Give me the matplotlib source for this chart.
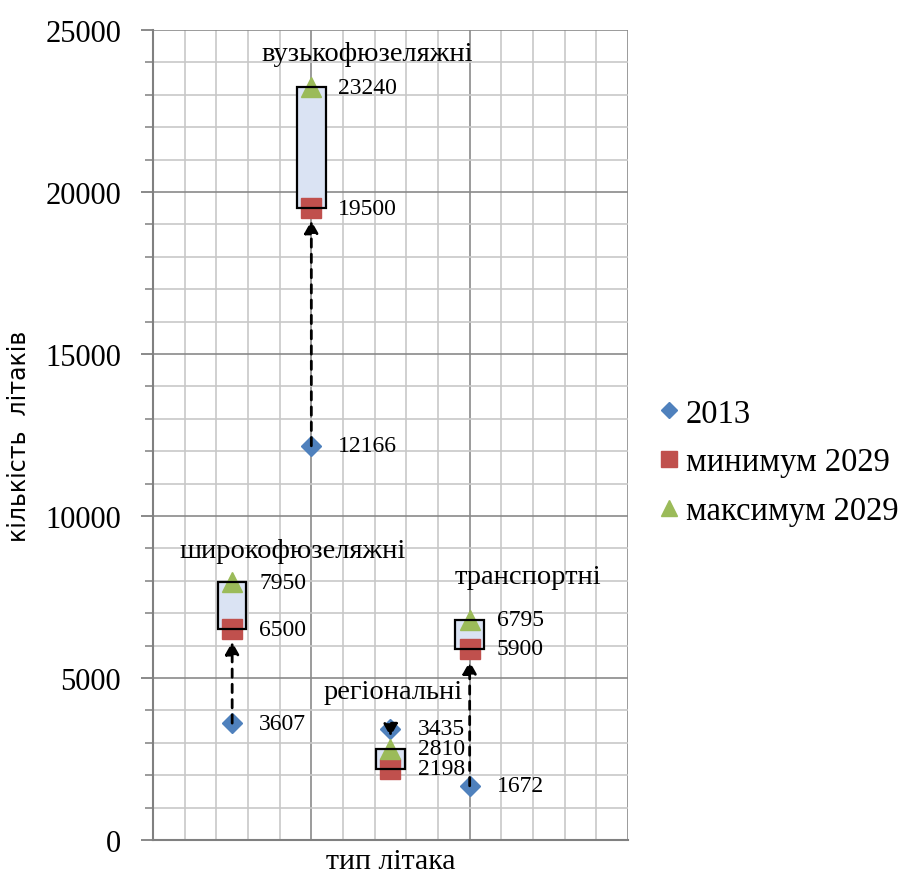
import matplotlib
matplotlib.use("Agg")
import matplotlib.pyplot as plt
from matplotlib.patches import Rectangle
from matplotlib.ticker import MultipleLocator

# data
categories = ["широкофюзеляжні", "вузькофюзеляжні", "регіональні", "транспортні"]
x_pos = [2.5, 5, 7.5, 10]
y2013 = [3607, 12166, 3435, 1672]
min2029 = [6500, 19500, 2198, 5900]
max2029 = [7950, 23240, 2810, 6795]
series_names = ["2013", "минимум 2029", "максимум 2029"]

# category label offsets (data units) from (x, max)
label_dx = [1.92, 1.76, 0.08, 1.84]
label_dy = [970, 1020, 1760, 1325]

BLUE = "#4f81bd"
RED = "#c0504d"
GREEN = "#9bbb59"
SERIF = ["Liberation Serif", "DejaVu Serif"]

plt.rcParams["font.family"] = SERIF

fig = plt.figure(figsize=(9.03, 8.79), dpi=100)
ax = fig.add_axes([153 / 903, 38 / 879, 475 / 903, 810 / 879])

ax.set_xlim(0, 15)
ax.set_ylim(0, 25000)

ax.xaxis.set_major_locator(MultipleLocator(5))
ax.xaxis.set_minor_locator(MultipleLocator(1))
ax.yaxis.set_major_locator(MultipleLocator(5000))
ax.yaxis.set_minor_locator(MultipleLocator(1000))
ax.grid(which="minor", color="#c8c8c8", lw=1.2, zorder=0)
ax.grid(which="major", color="#8a8a8a", lw=1.2, zorder=0)
ax.set_axisbelow(True)

for s in ["top", "right"]:
    ax.spines[s].set_visible(False)
ax.spines["left"].set_color("#808080")
ax.spines["bottom"].set_color("#808080")
ax.spines["left"].set_linewidth(1.5)
ax.spines["bottom"].set_linewidth(1.5)

ax.tick_params(axis="x", which="both", length=0, labelbottom=False)
ax.tick_params(axis="y", which="major", length=9, width=1.3, color="#808080",
               labelsize=22, pad=14)
ax.tick_params(axis="y", which="minor", length=6, width=1.1, color="#808080")

# boxes (fill under markers, edge above)
bw = 0.9
for x, lo, hi in zip(x_pos, min2029, max2029):
    ax.add_patch(Rectangle((x - bw / 2, lo), bw, hi - lo, facecolor="#dae3f3",
                           edgecolor="none", zorder=2))
    ax.add_patch(Rectangle((x - bw / 2, lo), bw, hi - lo, facecolor="none",
                           edgecolor="black", lw=1.6, zorder=5))

ax.plot(x_pos, y2013, ls="none", marker="D", ms=10.5, color=BLUE, zorder=4,
        label=series_names[0])
ax.plot(x_pos, min2029, ls="none", marker="s", ms=14, color=RED, zorder=4,
        label=series_names[1])
ax.plot(x_pos, max2029, ls="none", marker="^", ms=15, color=GREEN, zorder=4,
        label=series_names[2])

# arrows from 2013 to the nearest edge of the 2029 range
for x, a, lo, hi in zip(x_pos, y2013, min2029, max2029):
    target = lo if a < lo else hi
    ax.annotate("", xy=(x, target), xytext=(x, a),
                arrowprops=dict(arrowstyle="-|>,head_length=0.75,head_width=0.42",
                                color="black", lw=2, ls=(0, (3, 2.5)),
                                shrinkA=0, shrinkB=9),
                zorder=6)

# value labels
for vals in (y2013, min2029, max2029):
    for x, v in zip(x_pos, vals):
        ax.annotate(str(v), xy=(x, v), xytext=(19.5, 0), textcoords="offset points",
                    ha="left", va="center", fontsize=17, zorder=7)

# category labels
for x, hi, name, dx, dy in zip(x_pos, max2029, categories, label_dx, label_dy):
    ax.text(x + dx, hi + dy, name, ha="center", va="center", fontsize=20.5, zorder=7)

ax.set_xlabel("тип літака", fontsize=21.5, labelpad=6)
ax.set_ylabel("кількість  літаків", fontsize=17, labelpad=10,
              family=["Liberation Sans Narrow", "DejaVu Sans"])

leg = fig.legend(loc="center left", bbox_to_anchor=(622 / 903, 0.473), frameon=False,
                 fontsize=23.5, handletextpad=0.0, labelspacing=0.56, markerscale=0.8,
                 handlelength=1.05)

fig.savefig("out.png", dpi=100)
